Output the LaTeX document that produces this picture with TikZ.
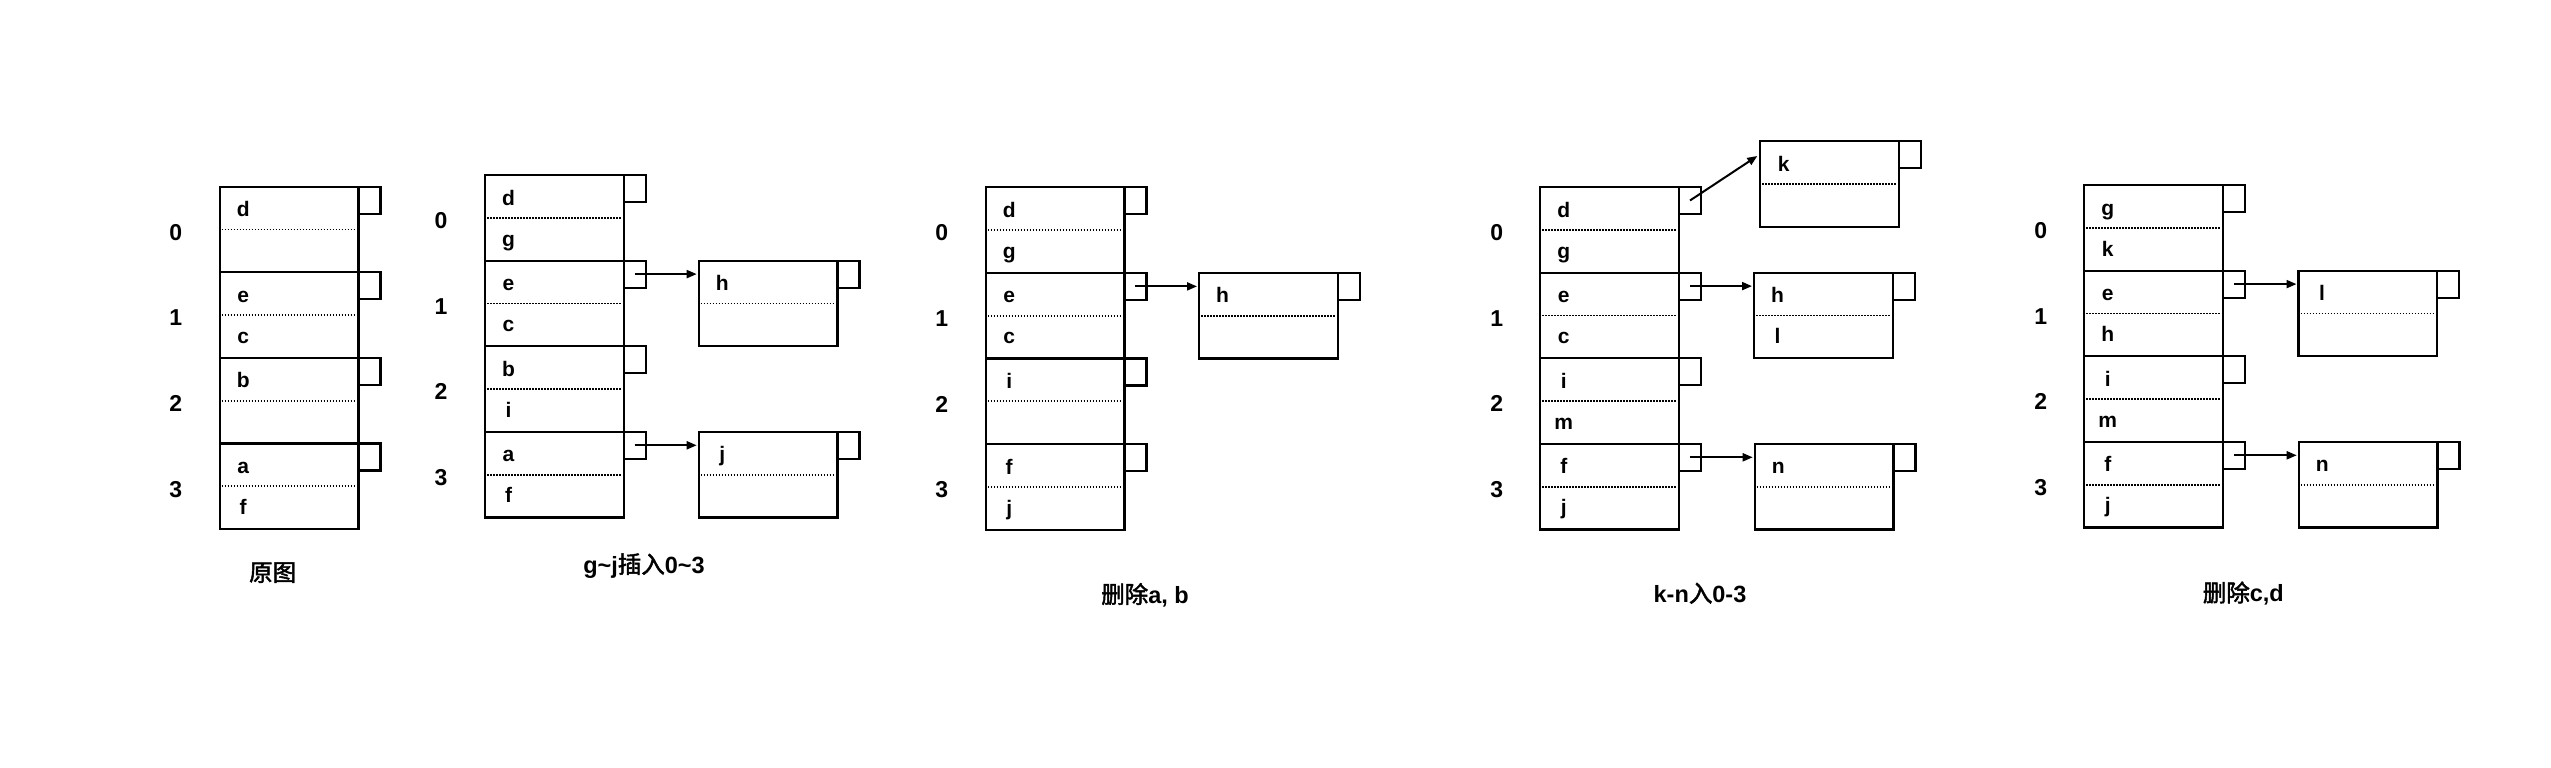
\documentclass[tikz,border=0pt]{standalone}
\usepackage{fontspec}
\setmainfont{Liberation Sans}
\newfontfamily\cjk{Noto Sans CJK SC}[AutoFakeBold=2]
\usetikzlibrary{arrows.meta}
\tikzset{
  cellbox/.style={draw, line width=2.2pt, minimum width=138.7pt, minimum height=85.6pt, inner sep=0pt, outer sep=0pt, anchor=north west},
  ptrbox/.style={draw, line width=2.2pt, minimum width=22pt, minimum height=27pt, inner sep=0pt, outer sep=0pt, anchor=north west},
  dotline/.style={line width=1.8pt, dash pattern=on 1.7pt off 1.3pt},
  lbl/.style={font=\bfseries\fontsize{21}{25}\selectfont, anchor=base, inner sep=0pt},
  idx/.style={font=\bfseries\fontsize{23}{27}\selectfont, anchor=base, inner sep=0pt},
  captext/.style={font=\bfseries\fontsize{23.5}{27}\selectfont, anchor=base, inner sep=0pt},
  arr/.style={line width=2pt, -{Triangle[length=10pt,width=8pt]}, shorten >=2pt},
}
% #1 name, #2 x left, #3 y top, #4 upper text, #5 lower text
\newcommand\hcell[5]{%
  \node[cellbox] (#1) at (#2,#3) {};
  \draw[dotline] ([xshift=2pt]#1.west) -- ([xshift=-2pt]#1.east);
  \node[ptrbox] (#1p) at (#1.north east) {};
  \if\relax\detokenize{#4}\relax\else
    \node[lbl] (#1u) at ([shift={(23.5,30)}]#1.north west) {#4};\fi
  \if\relax\detokenize{#5}\relax\else
    \node[lbl] (#1l) at ([shift={(23.5,71)}]#1.north west) {#5};\fi
}
\begin{document}
\begin{tikzpicture}[x=1pt,y=-1pt]
\fill[white] (0,0) rectangle (2551,768);
\useasboundingbox (0,0) rectangle (2551,768);

% ---------- Panel 1 ----------
\hcell{aa}{219.7}{186.7}{d}{}
\hcell{ab}{219.7}{272.3}{e}{c}
\hcell{ac}{219.7}{357.9}{b}{}
\hcell{ad}{219.7}{443.5}{a}{f}
\node[idx] (ai0) at (175.7,240.2) {0};
\node[idx] (ai1) at (175.7,325.8) {1};
\node[idx] (ai2) at (175.7,411.4) {2};
\node[idx] (ai3) at (175.7,497.0) {3};
\node[captext] (acap) at (272.7,581) {\cjk 原图};

% ---------- Panel 2 ----------
\hcell{ba}{485}{175}{d}{g}
\hcell{bb}{485}{260.6}{e}{c}
\hcell{bc}{485}{346.2}{b}{i}
\hcell{bd}{485}{431.8}{a}{f}
\node[idx] (bi0) at (441,228.5) {0};
\node[idx] (bi1) at (441,314.1) {1};
\node[idx] (bi2) at (441,399.7) {2};
\node[idx] (bi3) at (441,485.3) {3};
\hcell{bh}{698.7}{260.6}{h}{}
\hcell{bj}{698.7}{431.8}{j}{}
\draw[arr] (bbp.center) -- (bh.west |- bbp.center);
\draw[arr] (bdp.center) -- (bj.west |- bdp.center);
\node[captext] (bcap) at (644,573) {g\textasciitilde j{\cjk 插入}0\textasciitilde 3};

% ---------- Panel 3 ----------
\hcell{ca}{985.7}{187.3}{d}{g}
\hcell{cb}{985.7}{272.9}{e}{c}
\hcell{cc}{985.7}{358.5}{i}{}
\hcell{cd}{985.7}{444.1}{f}{j}
\node[idx] (ci0) at (941.7,240.8) {0};
\node[idx] (ci1) at (941.7,326.4) {1};
\node[idx] (ci2) at (941.7,412.0) {2};
\node[idx] (ci3) at (941.7,497.6) {3};
\hcell{ch}{1199}{272.9}{h}{}
\draw[arr] (cbp.center) -- (ch.west |- cbp.center);
\node[captext] (ccap) at (1145,603) {{\cjk 删除}a, b};

% ---------- Panel 4 ----------
\hcell{da}{1540.3}{187}{d}{g}
\hcell{db}{1540.3}{272.6}{e}{c}
\hcell{dc}{1540.3}{358.2}{i}{m}
\hcell{dd}{1540.3}{443.8}{f}{j}
\node[idx] (di0) at (1496.7,240.5) {0};
\node[idx] (di1) at (1496.7,326.1) {1};
\node[idx] (di2) at (1496.7,411.7) {2};
\node[idx] (di3) at (1496.7,497.3) {3};
\hcell{dk}{1760.3}{141}{k}{}
\hcell{dh}{1754}{272.6}{h}{l}
\hcell{dn}{1754.7}{443.8}{n}{}
\coordinate (dkin) at ([shift={(-3,15)}]dk.north west);
\draw[arr, shorten >=0pt] (dap.center) -- (dkin);
\draw[arr] (dbp.center) -- (dh.west |- dbp.center);
\draw[arr] (ddp.center) -- (dn.west |- ddp.center);
\node[captext] (dcap) at (1700,602) {k-n{\cjk 入}0-3};

% ---------- Panel 5 ----------
\hcell{ea}{2084.3}{185}{g}{k}
\hcell{eb}{2084.3}{270.6}{e}{h}
\hcell{ec}{2084.3}{356.2}{i}{m}
\hcell{ed}{2084.3}{441.8}{f}{j}
\node[idx] (ei0) at (2040.7,238.5) {0};
\node[idx] (ei1) at (2040.7,324.1) {1};
\node[idx] (ei2) at (2040.7,409.7) {2};
\node[idx] (ei3) at (2040.7,495.3) {3};
\hcell{el}{2298.5}{270.6}{l}{}
\hcell{en}{2298.7}{441.8}{n}{}
\draw[arr] (ebp.center) -- (el.west |- ebp.center);
\draw[arr] (edp.center) -- (en.west |- edp.center);
\node[captext] (ecap) at (2243.3,601.5) {{\cjk 删除}c,d};
\end{tikzpicture}
\end{document}
